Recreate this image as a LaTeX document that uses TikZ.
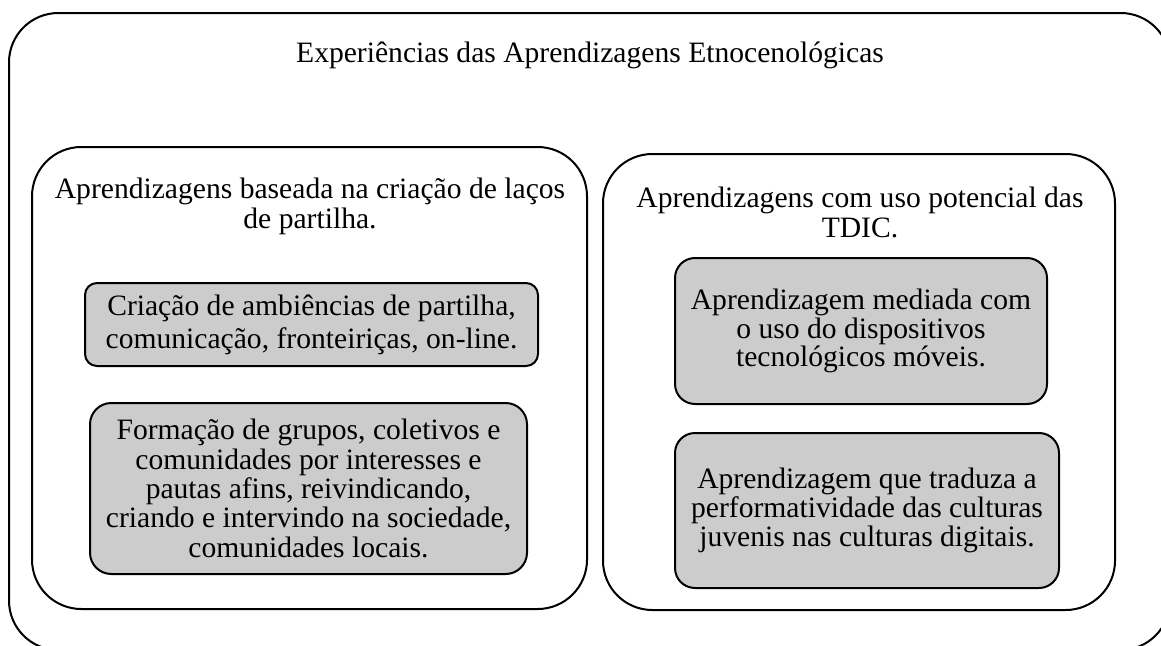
\documentclass[tikz,border=0pt]{standalone}
\usepackage{fontspec}
\setmainfont{Liberation Serif}
\begin{document}
\begin{tikzpicture}[x=0.75pt,y=-0.75pt,
  frame/.style={draw, line width=1.5pt, rounded corners=37pt, inner sep=0pt},
  graybox/.style={draw, line width=1.5pt, fill=black!20, rounded corners=#1, align=center,
    font=\fontsize{22.2}{22}\selectfont, inner sep=0pt},
  lbl/.style={align=center, font=\fontsize{22.2}{22.5}\selectfont, inner sep=0pt}]
\useasboundingbox (0,0) rectangle (1161,646);
\clip (0,0) rectangle (1161,646);
\node[frame, minimum width=870.75pt, minimum height=477.75pt] (outer) at (589.5,331.5) {};
\node[frame, minimum width=416.25pt, minimum height=346.5pt] (left) at (309.5,378) {};
\node[frame, minimum width=384pt, minimum height=342pt] (right) at (859,382) {};
\node[lbl] (title) at (590,55) {Experiências das Aprendizagens Etnocenológicas};
\node[lbl] (lhead) at (310,206) {Aprendizagens baseada na criação de laços\\de partilha.};
\node[lbl] (rhead) at (860,212) {Aprendizagens com uso potencial das\\TDIC.};
\node[graybox=9pt, minimum width=339.75pt, minimum height=62.25pt, font=\fontsize{22.2}{24.5}\selectfont] (g1) at (311.5,324.5)
  {\raisebox{-2pt}{\shortstack{Criação de ambiências de partilha,\\[1.2pt]comunicação, fronteiriças, on-line.}}};
\node[graybox=16pt, minimum width=327.75pt, minimum height=128.25pt] (g2) at (308.5,488.5)
  {Formação de grupos, coletivos e\\comunidades por interesses e\\pautas afins, reivindicando,\\criando e intervindo na sociedade,\\comunidades locais.};
\node[graybox=15pt, minimum width=279pt, minimum height=109.5pt, font=\fontsize{22.2}{21.5}\selectfont] (g3) at (861,331)
  {Aprendizagem mediada com\\o uso do dispositivos\\tecnológicos móveis.};
\node[graybox=15pt, minimum width=288pt, minimum height=116.25pt, font=\fontsize{22.2}{22}\selectfont] (g4) at (867,510.5)
  {Aprendizagem que traduza a\\performatividade das culturas\\juvenis nas culturas digitais.};
\end{tikzpicture}
\end{document}
